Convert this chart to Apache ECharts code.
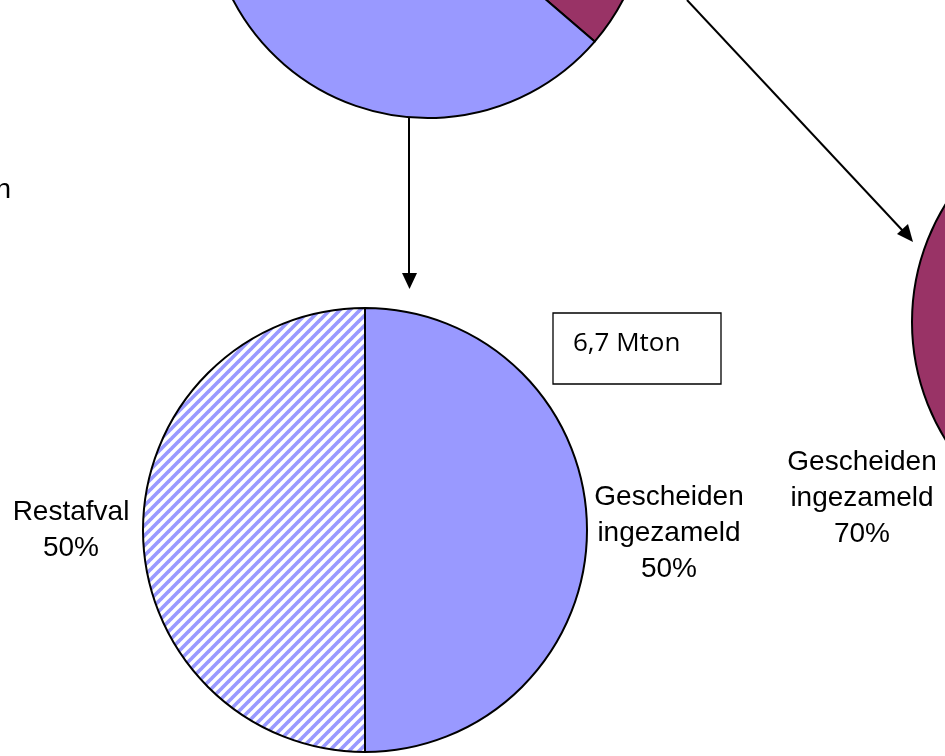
<!DOCTYPE html>
<html>
<head>
<meta charset="utf-8">
<script src="https://cdn.jsdelivr.net/npm/echarts@6/dist/echarts.min.js"></script>
<style>
  html, body { margin: 0; padding: 0; background: #fff; }
  #main { width: 945px; height: 756px; }
</style>
</head>
<body>
<div id="main"></div>
<script>
// waarden uit de figuur
const topNames = ['Bedrijven', 'Huishoudens'];
const topValues = [2.9, 6.7];            // alleen de onderkant is zichtbaar
const splitNames = ['Gescheiden ingezameld', 'Restafval'];
const bottomValues = [50, 50];           // 6,7 Mton
const rightValues = [70, 30];
const boxLabel = '6,7 Mton';

const blue = '#9999FF';
const purple = '#993366';
const font = '"Liberation Sans", Arial, sans-serif';

// gestreept patroon (diagonaal /)
function stripes(color) {
  const s = 10;
  const c = document.createElement('canvas');
  c.width = s; c.height = s;
  const ctx = c.getContext('2d');
  ctx.fillStyle = '#fff';
  ctx.fillRect(0, 0, s, s);
  ctx.strokeStyle = color;
  ctx.lineWidth = 3.6;
  [-s, 0, s].forEach(function (o) {
    ctx.beginPath();
    ctx.moveTo(o - 4, s + 4);
    ctx.lineTo(o + s + 4, -4);
    ctx.stroke();
  });
  return { image: c, repeat: 'repeat' };
}

const labelText = {
  color: '#000',
  fontFamily: font,
  fontSize: 28,
  lineHeight: 36,
  align: 'center'
};

function pieSeries(center, radius, startAngle, clockwise, data, labelPos) {
  return {
    type: 'pie',
    center: center,
    radius: radius,
    startAngle: startAngle,
    clockwise: clockwise,
    silent: true,
    avoidLabelOverlap: false,
    itemStyle: { borderColor: '#000', borderWidth: 2 },
    label: {
      show: !!labelPos,
      position: 'outside',
      formatter: function (p) {
        return p.name.replace(' ', '\n') + '\n' + Math.round(p.percent) + '%';
      },
      ...labelText
    },
    labelLine: { show: false },
    labelLayout: labelPos ? function (p) {
      const pos = labelPos[p.dataIndex];
      return pos ? { x: pos[0], y: pos[1], align: 'center', verticalAlign: 'middle' } : {};
    } : undefined,
    data: data
  };
}

const chart = echarts.init(document.getElementById('main'));

const option = {
  animation: false,
  series: [
    // bovenste taart (grotendeels buiten beeld)
    pieSeries([428, -102], 220, 68, true,
      topValues.map(function (v, i) {
        return { name: topNames[i], value: v, itemStyle: { color: i === 0 ? purple : blue } };
      }), null),
    // onderste taart
    pieSeries([365, 530], 222, 90, true,
      bottomValues.map(function (v, i) {
        return { name: splitNames[i], value: v, itemStyle: { color: i === 0 ? blue : stripes(blue) } };
      }), [[669, 533], [71, 530]]),
    // rechter taart
    pieSeries([1135, 322], 223, 90, false,
      rightValues.map(function (v, i) {
        return { name: splitNames[i], value: v, itemStyle: { color: i === 0 ? purple : stripes(purple) } };
      }), [[862, 498], [1300, 322]])
  ],
  graphic: [
    // pijl omlaag
    { type: 'line', shape: { x1: 409, y1: 118, x2: 409, y2: 275 }, style: { stroke: '#000', lineWidth: 2 } },
    { type: 'polygon', shape: { points: [[402, 273], [417, 273], [409.5, 289]] }, style: { fill: '#000' } },
    // pijl schuin
    { type: 'line', shape: { x1: 687, y1: 0, x2: 903, y2: 231 }, style: { stroke: '#000', lineWidth: 2 } },
    { type: 'polygon', shape: { points: [[913, 242], [897, 234], [908, 224]] }, style: { fill: '#000' } },
    // kader 6,7 Mton
    {
      type: 'rect', shape: { x: 553, y: 313, width: 168, height: 71 },
      style: { fill: '#fff', stroke: '#000', lineWidth: 1.3 }
    },
    {
      type: 'text', x: 573, y: 344,
      style: { text: boxLabel, fill: '#000', font: '26px "Open Sans", sans-serif', verticalAlign: 'middle' }
    },
    // afgesneden tekst links
    {
      type: 'text', x: 11, y: 190,
      style: { text: 'Mton', fill: '#000', font: '28px ' + font, align: 'right', verticalAlign: 'middle' }
    }
  ]
};

chart.setOption(option);
</script>
</body>
</html>
